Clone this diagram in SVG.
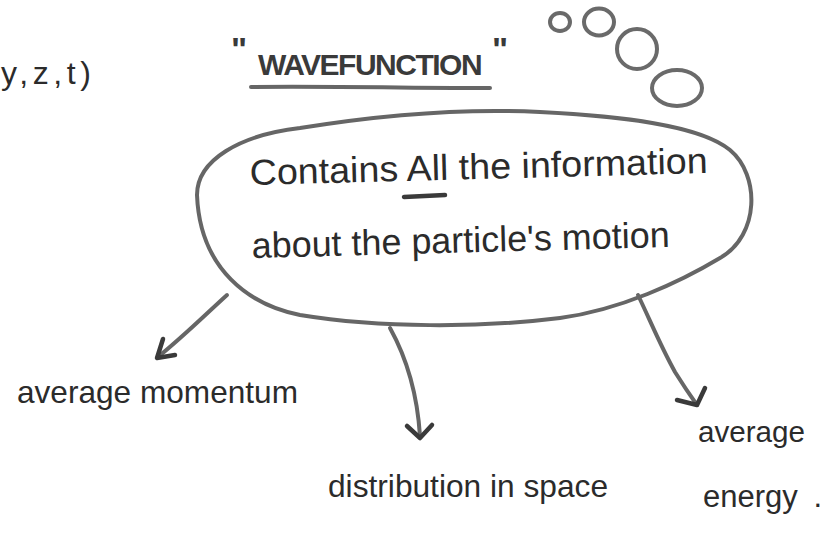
<svg xmlns="http://www.w3.org/2000/svg" width="837" height="537" viewBox="0 0 837 537">
  <style>
    .ink { font-family: "Liberation Sans", "DejaVu Sans", sans-serif; fill: #2b2b2b; }
    .title { font-family: "Liberation Sans", "DejaVu Sans", sans-serif; font-weight: bold; fill: #3a3a3a; }
    .pen { fill: none; stroke: #666; stroke-width: 4; stroke-linecap: round; stroke-linejoin: round; }
    .dark { fill: none; stroke: #3a3a3a; stroke-width: 4.5; stroke-linecap: round; stroke-linejoin: round; }
    .bubble { fill: #fff; stroke: #6a6a6a; stroke-width: 4; }
  </style>
  <rect width="837" height="537" fill="#fff"/>

  <g id="coords">
    <text class="ink" x="1" y="84" font-size="32" textLength="90" lengthAdjust="spacing">y,z,t)</text>
  </g>

  <g id="title">
    <text class="title" font-size="30"><tspan x="231" y="61" font-size="34">"</tspan><tspan x="258" y="75" letter-spacing="-1.5">WAVEFUNCTION</tspan><tspan x="492" y="61" font-size="34">"</tspan></text>
    <path class="pen" d="M 251,87 C 320,86 420,88 490,88"/>
  </g>

  <g id="thought-bubbles">
    <ellipse class="bubble" cx="560" cy="22" rx="10" ry="9"/>
    <ellipse class="bubble" cx="599" cy="22" rx="15" ry="13.5"/>
    <ellipse class="bubble" cx="637" cy="49" rx="20" ry="20"/>
    <ellipse class="bubble" cx="677" cy="88" rx="25" ry="18"/>
  </g>

  <g id="wavefunction-node">
    <path class="pen" d="M 197,195 C 197,160 240,135 300,128 C 380,115 460,108 540,112 C 620,116 700,125 730,150 C 760,175 760,235 720,258 C 680,282 620,310 560,318 C 480,328 380,328 300,315 C 250,305 200,270 197,195 Z"/>
    <text class="ink" x="250" y="185" font-size="36" textLength="458" lengthAdjust="spacingAndGlyphs" transform="rotate(-1.5 250 185)">Contains All the information</text>
    <path class="dark" d="M 404,197 L 445,195"/>
    <text class="ink" x="252" y="258" font-size="36" textLength="418" lengthAdjust="spacingAndGlyphs" transform="rotate(-1.5 252 258)">about the particle's motion</text>
  </g>

  <g id="connectors">
    <path class="pen" d="M 227,295 C 205,315 185,335 158,357"/>
    <path class="dark" d="M 163,339 L 157,358 L 175,355"/>
    <path class="pen" d="M 390,328 C 405,355 417,390 420,436"/>
    <path class="dark" d="M 407,426 L 420,438 L 432,425"/>
    <path class="pen" d="M 638,295 C 650,320 660,345 675,372 C 685,388 692,398 697,405"/>
    <path class="dark" d="M 677,400 L 697,405 L 705,388"/>
  </g>

  <g id="label-momentum">
    <text class="ink" x="17" y="403" font-size="32" textLength="281" lengthAdjust="spacingAndGlyphs">average momentum</text>
  </g>
  <g id="label-distribution">
    <text class="ink" x="328" y="497" font-size="32" textLength="280" lengthAdjust="spacingAndGlyphs">distribution in space</text>
  </g>
  <g id="label-energy">
    <text class="ink" x="698" y="442" font-size="30" textLength="107" lengthAdjust="spacingAndGlyphs">average</text>
    <text class="ink" x="703" y="507" font-size="31">energy<tspan dx="18">.</tspan></text>
  </g>
</svg>
